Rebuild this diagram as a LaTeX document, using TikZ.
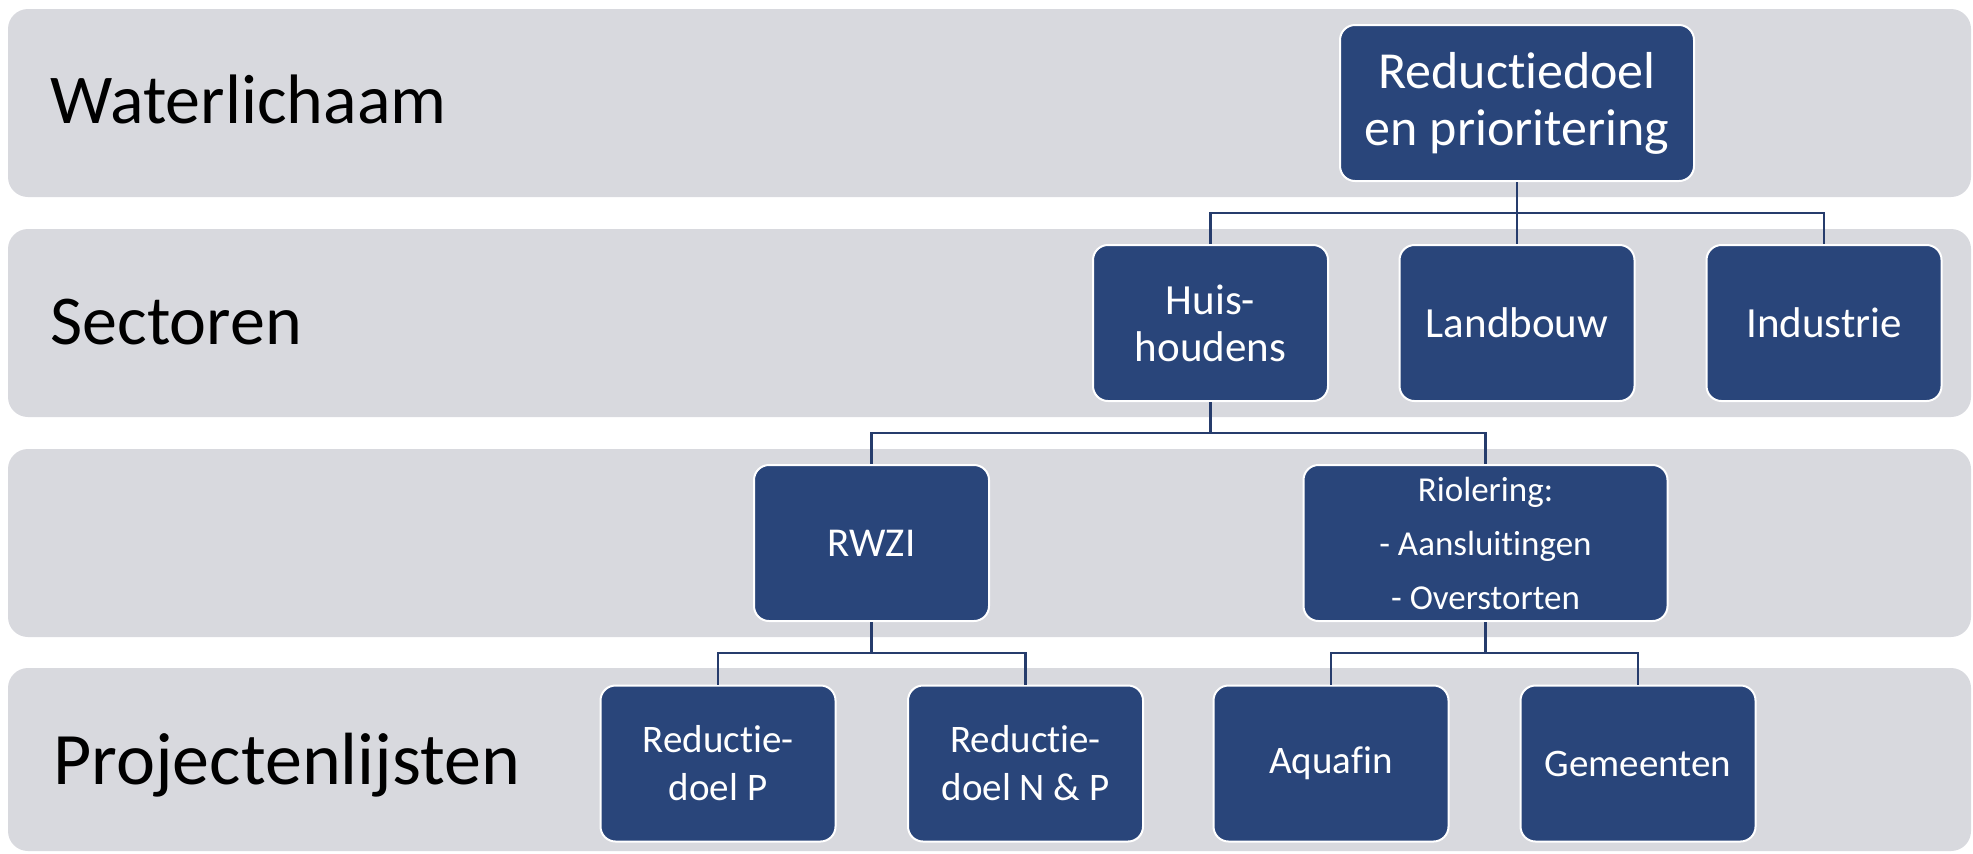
\documentclass[tikz,border=0pt]{standalone}
\usepackage{fontspec}
\setmainfont{Carlito}[Ligatures=NoCommon]
\definecolor{bandgray}{RGB}{216,217,222}
\definecolor{boxblue}{RGB}{41,69,122}
\definecolor{connblue}{RGB}{38,60,108}
\begin{document}
\begin{tikzpicture}[x=0.5pt,y=-0.5pt,
  bandbox/.style={fill=bandgray, rounded corners=10pt},
  lbl/.style={anchor=base west, inner sep=0pt, text=black},
  box/.style={draw=white, line width=1pt, fill=boxblue, rounded corners=7.5pt,
    text=white, align=center, minimum height=78pt, minimum width=117.5pt, inner sep=0pt},
  sfont/.style={font=\fontsize{21.5pt}{23.5pt}\selectfont},
  bfont/.style={font=\fontsize{19.5pt}{24pt}\selectfont},
  conn/.style={draw=connblue, line width=1.3pt}]
\useasboundingbox (0,0) rectangle (1973,853);
% bands
\path[bandbox] (8,9) rectangle (1971,197);
\path[bandbox] (8,229) rectangle (1971,417);
\path[bandbox] (8,449) rectangle (1971,637);
\path[bandbox] (8,668) rectangle (1971,851);
% band labels
\node[lbl, font=\fontsize{35pt}{40pt}\selectfont] (l1) at (50,123) {Waterlichaam};
\node[lbl, font=\fontsize{35pt}{40pt}\selectfont] (l2) at (50,344) {Sectoren};
\node[lbl, font=\fontsize{37pt}{42pt}\selectfont] (l4) at (53,784) {Projectenlijsten};
% bus coordinates
\coordinate (b1) at (0,213);
\coordinate (b2) at (0,433);
\coordinate (b3) at (0,653);
% boxes
\node[box, minimum width=177pt, font=\fontsize{26pt}{28.5pt}\selectfont] (top) at (1517,103) {Reductiedoel\\en prioritering};
\node[box, sfont] (huis) at (1210.5,323) {Huis-\\houdens};
\node[box, sfont] (land) at (1517,323) {Landbouw};
\node[box, sfont] (ind) at (1824,323) {Industrie};
\node[box, font=\fontsize{20.5pt}{24pt}\selectfont] (rwzi) at (871.5,543) {RWZI};
\node[box, minimum width=182pt, font=\fontsize{17.5pt}{27pt}\selectfont] (riol) at (1485.5,543) {Riolering:\\- Aansluitingen\\- Overstorten};
\node[box, bfont] (rp) at (718,763.5) {Reductie-\\doel P};
\node[box, bfont] (rnp) at (1025.5,763.5) {Reductie-\\doel N \& P};
\node[box, bfont] (aqua) at (1331,763.5) {Aquafin};
\node[box, bfont] (gem) at (1638,763.5) {Gemeenten};
% connectors
\draw[conn] (top.south) -- (top.south |- b1) -| (huis.north);
\draw[conn] (top.south) -- (land.north);
\draw[conn] (top.south |- b1) -| (ind.north);
\draw[conn] (huis.south) -- (huis.south |- b2) -| (rwzi.north);
\draw[conn] (huis.south |- b2) -| (riol.north);
\draw[conn] (rwzi.south) -- (rwzi.south |- b3) -| (rp.north);
\draw[conn] (rwzi.south |- b3) -| (rnp.north);
\draw[conn] (riol.south) -- (riol.south |- b3) -| (aqua.north);
\draw[conn] (riol.south |- b3) -| (gem.north);
\end{tikzpicture}
\end{document}
